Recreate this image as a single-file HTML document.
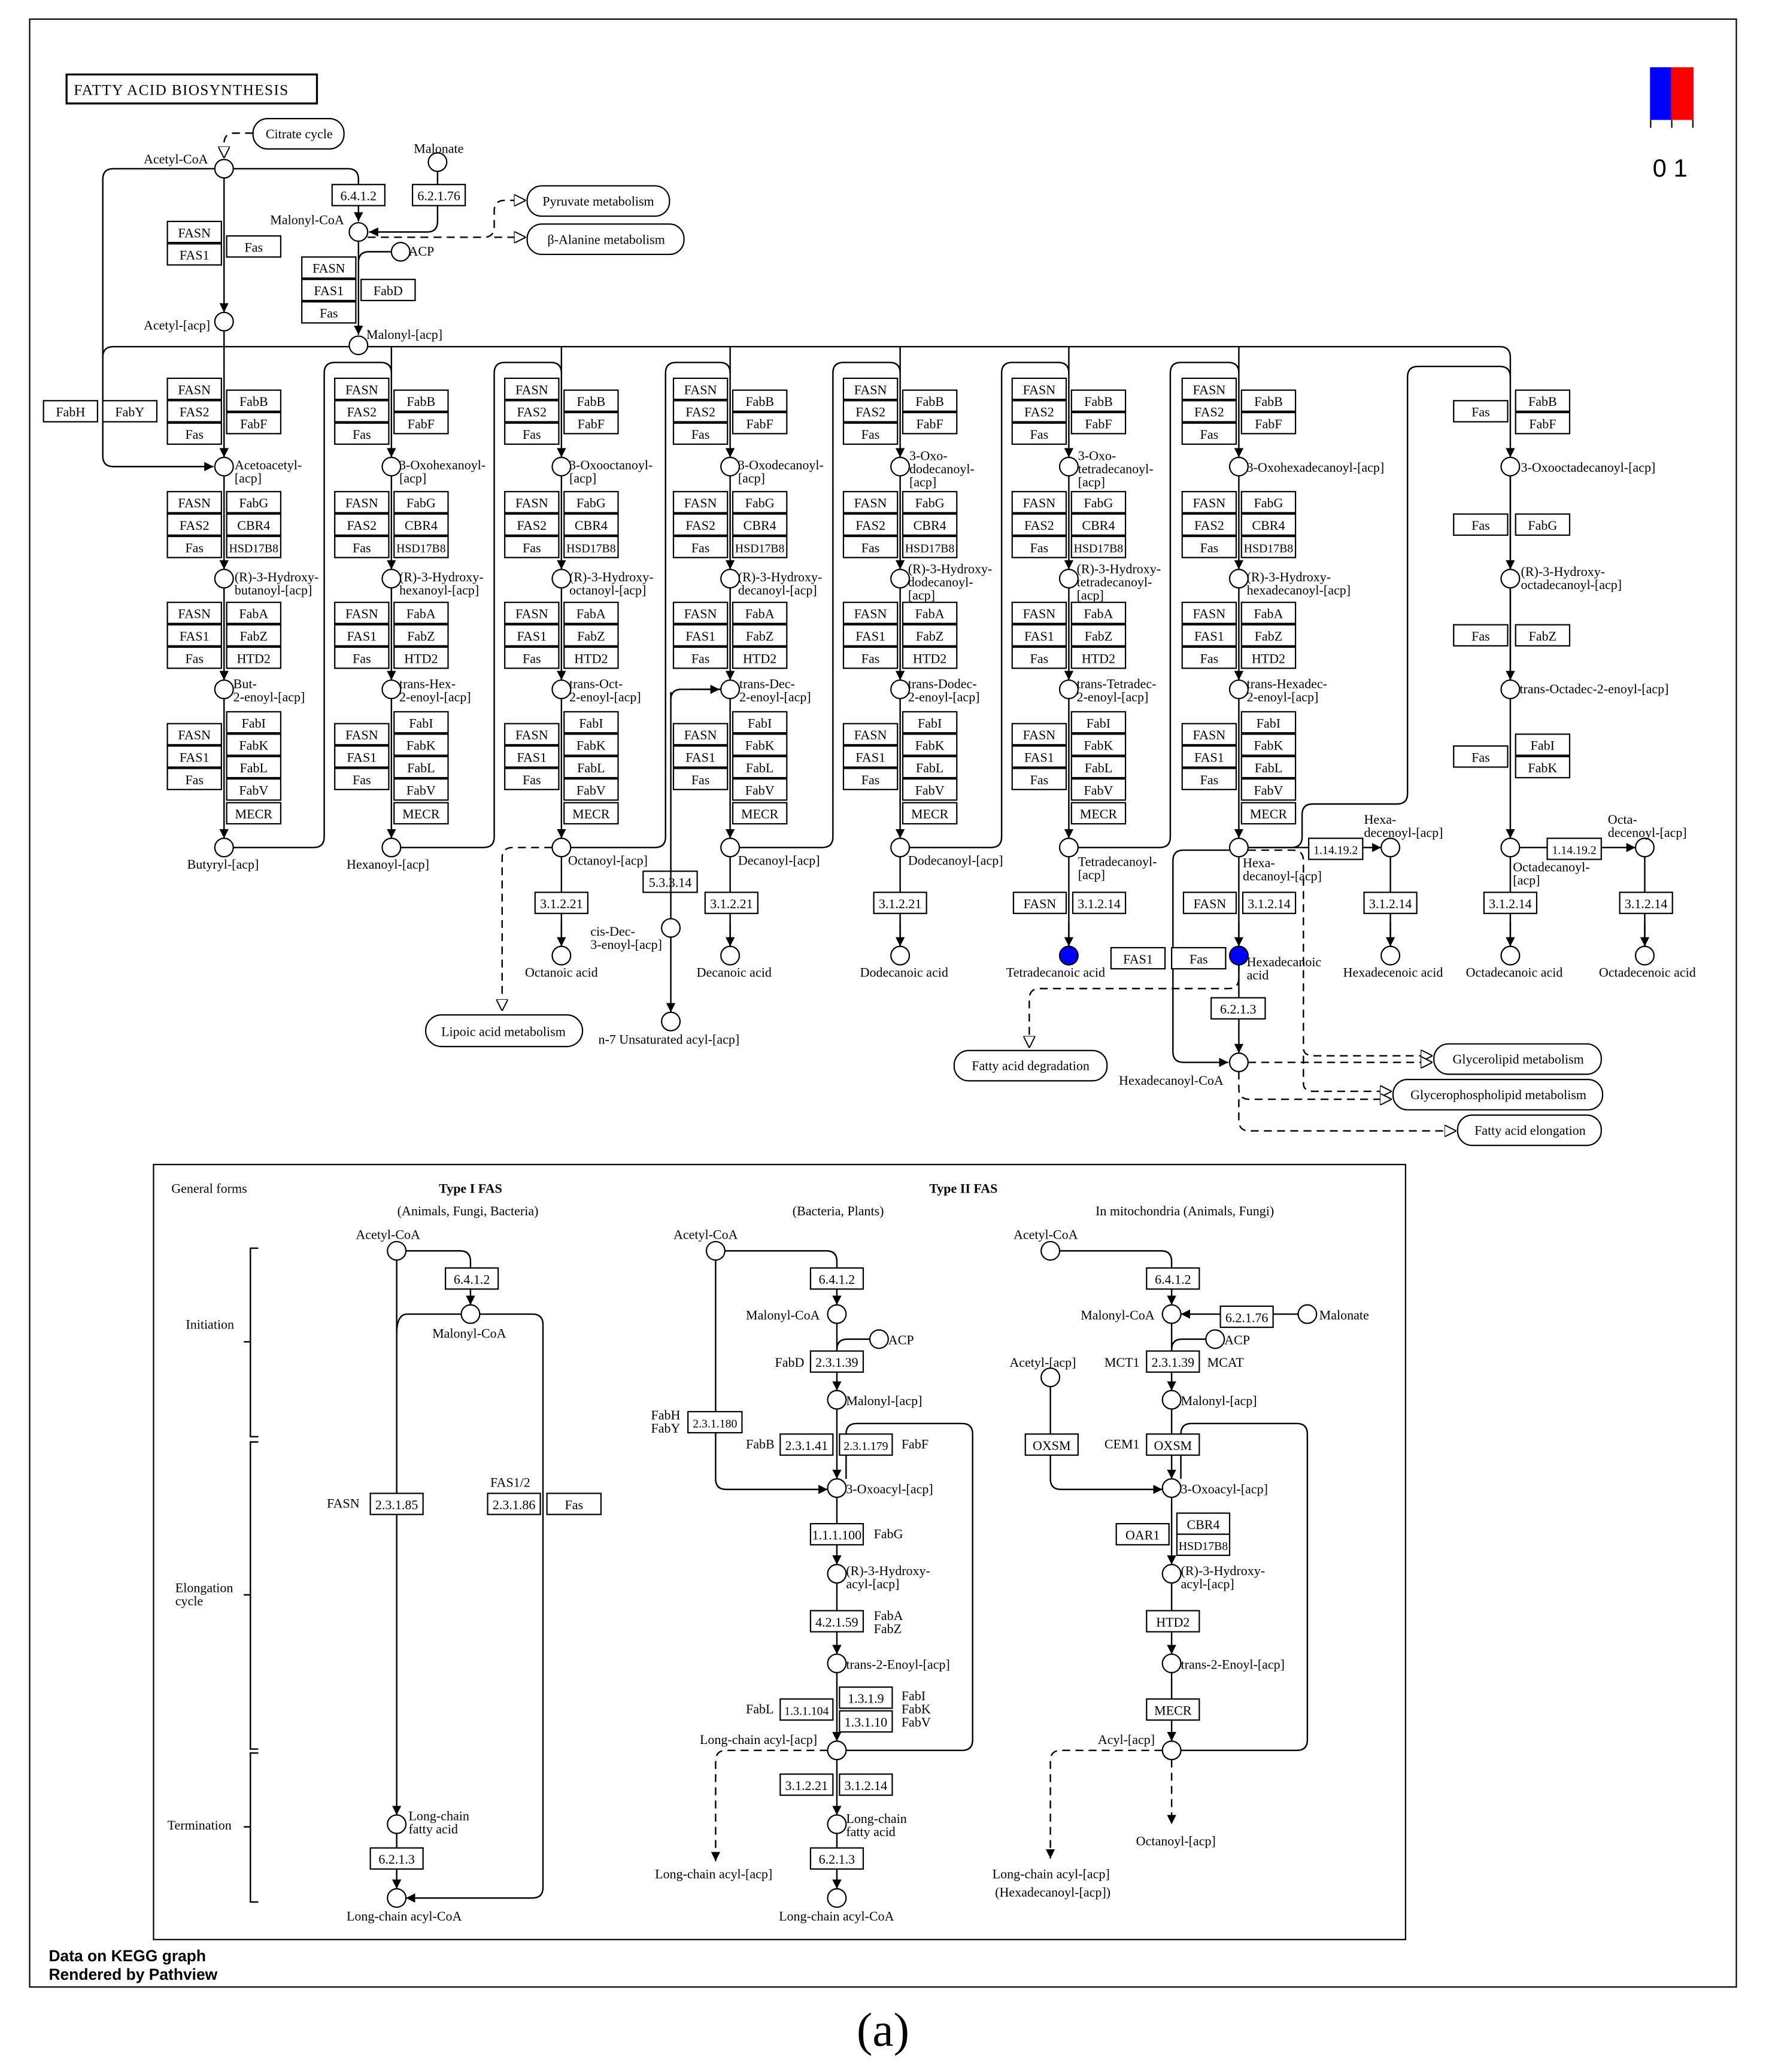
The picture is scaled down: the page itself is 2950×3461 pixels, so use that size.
<!DOCTYPE html>
<html><head><meta charset="utf-8"><style>
html,body{margin:0;padding:0;background:#fff}
svg{display:block}
text{font-family:"Liberation Serif",serif;font-size:10px;fill:#000}
.bx rect,rect.bx{fill:#fff;stroke:#000;stroke-width:1}
.bx text,.c{text-anchor:middle}
.n{fill:#fff;stroke:#000;stroke-width:1}
.bl{fill:#0000ff;stroke:#000;stroke-width:1}
.l{fill:none;stroke:#000;stroke-width:1.1}
.d{fill:none;stroke:#000;stroke-width:1.1;stroke-dasharray:6 4}
.rb{fill:#fff;stroke:#000;stroke-width:1}
.bold{font-weight:bold}
</style></head><body>
<svg width="2950" height="3461" viewBox="0 0 1340 1572" preserveAspectRatio="none" xmlns="http://www.w3.org/2000/svg">
<defs>
<marker id="a" viewBox="0 0 10 10" refX="10" refY="5" markerWidth="7" markerHeight="7" markerUnits="userSpaceOnUse" orient="auto"><path d="M0,0L10,5L0,10z" fill="#000"/></marker>
<marker id="h" viewBox="0 0 10 10" refX="10" refY="5" markerWidth="9" markerHeight="9" markerUnits="userSpaceOnUse" orient="auto"><path d="M0,0L10,5L0,10z" fill="#fff" stroke="#000" stroke-width="1"/></marker>
</defs>
<rect x="0" y="0" width="1340" height="1572" fill="#fff"/>
<rect x="22.5" y="14.5" width="1295" height="1493" fill="none" stroke="#000" stroke-width="1"/>
<!-- title -->
<rect x="50.5" y="56.5" width="190" height="22" fill="#fff" stroke="#000" stroke-width="1.5"/>
<text x="56" y="72" style="font-size:11.5px;letter-spacing:0.6px">FATTY  ACID  BIOSYNTHESIS</text>
<!-- legend -->
<rect x="1252" y="51" width="16" height="40" fill="#0000ff"/>
<rect x="1268" y="51" width="17" height="40" fill="#ff0000"/>
<path d="M1252.5,91V97M1268.5,91V97M1284.5,91V97" stroke="#000"/>
<text x="1254" y="134" style="font-family:'Liberation Sans',sans-serif;font-size:19px">0 1</text>

<!-- ===== columns ===== -->
<g id="col1" transform="translate(170,0)">
<g class="bx">
<rect x="-43" y="287" width="41" height="16"/><text x="-22.5" y="299">FASN</text>
<rect x="-43" y="304" width="41" height="16"/><text x="-22.5" y="316">FAS2</text>
<rect x="-43" y="321" width="41" height="16"/><text x="-22.5" y="333">Fas</text>
<rect x="2" y="296" width="41" height="16"/><text x="22.5" y="308">FabB</text>
<rect x="2" y="313" width="41" height="16"/><text x="22.5" y="325">FabF</text>
<rect x="-43" y="373" width="41" height="16"/><text x="-22.5" y="385">FASN</text>
<rect x="-43" y="390" width="41" height="16"/><text x="-22.5" y="402">FAS2</text>
<rect x="-43" y="407" width="41" height="16"/><text x="-22.5" y="419">Fas</text>
<rect x="2" y="373" width="41" height="16"/><text x="22.5" y="385">FabG</text>
<rect x="2" y="390" width="41" height="16"/><text x="22.5" y="402">CBR4</text>
<rect x="2" y="407" width="41" height="16"/><text x="22.5" y="419" style="font-size:9px">HSD17B8</text>
<rect x="-43" y="457" width="41" height="16"/><text x="-22.5" y="469">FASN</text>
<rect x="-43" y="474" width="41" height="16"/><text x="-22.5" y="486">FAS1</text>
<rect x="-43" y="491" width="41" height="16"/><text x="-22.5" y="503">Fas</text>
<rect x="2" y="457" width="41" height="16"/><text x="22.5" y="469">FabA</text>
<rect x="2" y="474" width="41" height="16"/><text x="22.5" y="486">FabZ</text>
<rect x="2" y="491" width="41" height="16"/><text x="22.5" y="503">HTD2</text>
<rect x="-43" y="549" width="41" height="16"/><text x="-22.5" y="561">FASN</text>
<rect x="-43" y="566" width="41" height="16"/><text x="-22.5" y="578">FAS1</text>
<rect x="-43" y="583" width="41" height="16"/><text x="-22.5" y="595">Fas</text>
<rect x="2" y="540" width="41" height="16"/><text x="22.5" y="552">FabI</text>
<rect x="2" y="557" width="41" height="16"/><text x="22.5" y="569">FabK</text>
<rect x="2" y="574" width="41" height="16"/><text x="22.5" y="586">FabL</text>
<rect x="2" y="591" width="41" height="16"/><text x="22.5" y="603">FabV</text>
<rect x="2" y="609" width="41" height="16"/><text x="22.5" y="621">MECR</text>
</g>
<path class="l" d="M0,263V347" marker-end="url(#a)"/>
<path class="l" d="M0,361V432" marker-end="url(#a)"/>
<path class="l" d="M0,446V516" marker-end="url(#a)"/>
<path class="l" d="M0,530V636" marker-end="url(#a)"/>
<circle class="n" cx="0" cy="354" r="7"/><circle class="n" cx="0" cy="439" r="7"/><circle class="n" cx="0" cy="523" r="7"/><circle class="n" cx="0" cy="643" r="7"/>
</g>
<use href="#col1" transform="translate(127,0)"/>
<use href="#col1" transform="translate(256,0)"/>
<use href="#col1" transform="translate(384,0)"/>
<use href="#col1" transform="translate(513,0)"/>
<use href="#col1" transform="translate(641,0)"/>
<use href="#col1" transform="translate(770,0)"/>
<!-- visible duplicate labels for source (columns 2-7 text) -->
<g style="display:none"><text>FASN FAS2 Fas FabB FabF FabG CBR4 HSD17B8 FAS1 FabA FabZ HTD2 FabI FabK FabL FabV MECR</text></g>

<!-- col8 (x=1146) -->
<g class="bx">
<rect x="1103" y="304" width="41" height="16"/><text x="1123.5" y="316">Fas</text>
<rect x="1150" y="296" width="41" height="16"/><text x="1170.5" y="308">FabB</text>
<rect x="1150" y="313" width="41" height="16"/><text x="1170.5" y="325">FabF</text>
<rect x="1103" y="390" width="41" height="16"/><text x="1123.5" y="402">Fas</text>
<rect x="1150" y="390" width="41" height="16"/><text x="1170.5" y="402">FabG</text>
<rect x="1103" y="474" width="41" height="16"/><text x="1123.5" y="486">Fas</text>
<rect x="1150" y="474" width="41" height="16"/><text x="1170.5" y="486">FabZ</text>
<rect x="1103" y="566" width="41" height="16"/><text x="1123.5" y="578">Fas</text>
<rect x="1150" y="557" width="41" height="16"/><text x="1170.5" y="569">FabI</text>
<rect x="1150" y="574" width="41" height="16"/><text x="1170.5" y="586">FabK</text>
</g>
<path class="l" d="M1146,361V432M1146,446V516M1146,530V636" marker-end="url(#a)"/>
<path class="l" d="M1146,361V432" marker-end="url(#a)"/>
<path class="l" d="M1146,446V516" marker-end="url(#a)"/>
<circle class="n" cx="1146" cy="354" r="7"/><circle class="n" cx="1146" cy="439" r="7"/><circle class="n" cx="1146" cy="523" r="7"/><circle class="n" cx="1146" cy="643" r="7"/>

<!-- top long line & loops -->
<path class="l" d="M78,271Q78,263 86,263H1138Q1146,263 1146,271V347" marker-end="url(#a)"/>
<path class="l" d="M177,643H238Q246,643 246,635V283Q246,275 254,275H289Q297,275 297,283"/>
<path class="l" d="M304,643H367Q375,643 375,635V283Q375,275 383,275H418Q426,275 426,283"/>
<path class="l" d="M433,643H497Q505,643 505,635V283Q505,275 513,275H546Q554,275 554,283"/>
<path class="l" d="M561,643H624Q632,643 632,635V283Q632,275 640,275H675Q683,275 683,283"/>
<path class="l" d="M690,643H752Q760,643 760,635V283Q760,275 768,275H803Q811,275 811,283"/>
<path class="l" d="M818,643H880Q888,643 888,635V283Q888,275 896,275H932Q940,275 940,283"/>
<path class="l" d="M947,643H980Q988,643 988,635V618Q988,610 996,610H1060Q1068,610 1068,602V286Q1068,278 1076,278H1138Q1146,278 1146,286"/>
<!-- Hexadecanoyl-acp to CoA -->
<path class="l" d="M933,645H898Q890,645 890,653V798Q890,806 898,806H932" marker-end="url(#a)"/>

<!-- left start -->
<path class="l" d="M163,128H86Q78,128 78,136V346Q78,354 86,354H162" marker-end="url(#a)"/>
<g class="bx">
<rect x="33" y="304" width="41" height="16"/><text x="53.5" y="316">FabH</text>
<rect x="78" y="304" width="41" height="16"/><text x="98.5" y="316">FabY</text>
</g>
<path class="l" d="M170,135V237" marker-end="url(#a)"/>
<path class="l" d="M170,251V263"/>
<path class="l" d="M177,128H264Q272,128 272,136V168" marker-end="url(#a)"/>
<path class="l" d="M332,130V168Q332,176 324,176H280" marker-end="url(#a)"/>
<path class="l" d="M272,183V254" marker-end="url(#a)"/>
<path class="l" d="M297,191H280Q272,191 272,199"/>
<circle class="n" cx="170" cy="128" r="7"/>
<circle class="n" cx="170" cy="244" r="7"/>
<circle class="n" cx="332" cy="123" r="7"/>
<circle class="n" cx="272" cy="176" r="7"/>
<circle class="n" cx="304" cy="191" r="7"/>
<circle class="n" cx="272" cy="262" r="7"/>
<g class="bx">
<rect x="252" y="140" width="40" height="16"/><text x="272" y="152">6.4.1.2</text>
<rect x="313" y="140" width="40" height="16"/><text x="333" y="152">6.2.1.76</text>
<rect x="127" y="168" width="41" height="16"/><text x="147.5" y="180">FASN</text>
<rect x="127" y="185" width="41" height="16"/><text x="147.5" y="197">FAS1</text>
<rect x="172" y="179" width="41" height="16"/><text x="192.5" y="191">Fas</text>
<rect x="229" y="195" width="41" height="16"/><text x="249.5" y="207">FASN</text>
<rect x="229" y="212" width="41" height="16"/><text x="249.5" y="224">FAS1</text>
<rect x="274" y="212" width="41" height="16"/><text x="294.5" y="224">FabD</text>
<rect x="229" y="229" width="41" height="16"/><text x="249.5" y="241">Fas</text>
</g>
<text x="109" y="124">Acetyl-CoA</text>
<text x="109" y="250">Acetyl-[acp]</text>
<text x="314" y="116">Malonate</text>
<text x="205" y="170">Malonyl-CoA</text>
<text x="310" y="194">ACP</text>
<text x="278" y="257">Malonyl-[acp]</text>
<rect class="rb" x="192" y="90" width="69" height="23" rx="11"/><text class="c" x="227" y="105">Citrate cycle</text>
<path class="d" d="M192,101H178Q170,101 170,109V120" marker-end="url(#h)"/>
<rect class="rb" x="400" y="141" width="108" height="23" rx="11"/><text class="c" x="454" y="156">Pyruvate metabolism</text>
<rect class="rb" x="400" y="170" width="119" height="23" rx="11"/><text class="c" x="460" y="185">β-Alanine metabolism</text>
<path class="d" d="M279,180H367Q375,180 375,172V160Q375,152 383,152H399" marker-end="url(#h)"/>
<path class="d" d="M375,180H399" marker-end="url(#h)"/>

<!-- column labels -->
<text x="178" y="356">Acetoacetyl-</text><text x="178" y="366">[acp]</text>
<text x="178" y="441">(R)-3-Hydroxy-</text><text x="178" y="451">butanoyl-[acp]</text>
<text x="177" y="522">But-</text><text x="177" y="532">2-enoyl-[acp]</text>
<text x="142" y="659">Butyryl-[acp]</text>
<text x="303" y="356">3-Oxohexanoyl-</text><text x="303" y="366">[acp]</text>
<text x="303" y="441">(R)-3-Hydroxy-</text><text x="303" y="451">hexanoyl-[acp]</text>
<text x="303" y="522">trans-Hex-</text><text x="303" y="532">2-enoyl-[acp]</text>
<text x="263" y="659">Hexanoyl-[acp]</text>
<text x="432" y="356">3-Oxooctanoyl-</text><text x="432" y="366">[acp]</text>
<text x="432" y="441">(R)-3-Hydroxy-</text><text x="432" y="451">octanoyl-[acp]</text>
<text x="432" y="522">trans-Oct-</text><text x="432" y="532">2-enoyl-[acp]</text>
<text x="431" y="656">Octanoyl-[acp]</text>
<text x="560" y="356">3-Oxodecanoyl-</text><text x="560" y="366">[acp]</text>
<text x="560" y="441">(R)-3-Hydroxy-</text><text x="560" y="451">decanoyl-[acp]</text>
<text x="561" y="522">trans-Dec-</text><text x="561" y="532">2-enoyl-[acp]</text>
<text x="560" y="656">Decanoyl-[acp]</text>
<text x="690" y="349">3-Oxo-</text><text x="690" y="359">dodecanoyl-</text><text x="690" y="369">[acp]</text>
<text x="689" y="435">(R)-3-Hydroxy-</text><text x="689" y="445">dodecanoyl-</text><text x="689" y="455">[acp]</text>
<text x="689" y="522">trans-Dodec-</text><text x="689" y="532">2-enoyl-[acp]</text>
<text x="689" y="656">Dodecanoyl-[acp]</text>
<text x="818" y="349">3-Oxo-</text><text x="818" y="359">tetradecanoyl-</text><text x="818" y="369">[acp]</text>
<text x="817" y="435">(R)-3-Hydroxy-</text><text x="817" y="445">tetradecanoyl-</text><text x="817" y="455">[acp]</text>
<text x="817" y="522">trans-Tetradec-</text><text x="817" y="532">2-enoyl-[acp]</text>
<text x="818" y="657">Tetradecanoyl-</text><text x="818" y="667">[acp]</text>
<text x="946" y="358">3-Oxohexadecanoyl-[acp]</text>
<text x="946" y="441">(R)-3-Hydroxy-</text><text x="946" y="451">hexadecanoyl-[acp]</text>
<text x="946" y="522">trans-Hexadec-</text><text x="946" y="532">2-enoyl-[acp]</text>
<text x="943" y="658">Hexa-</text><text x="943" y="668">decanoyl-[acp]</text>
<text x="1154" y="358">3-Oxooctadecanoyl-[acp]</text>
<text x="1154" y="437">(R)-3-Hydroxy-</text><text x="1154" y="447">octadecanoyl-[acp]</text>
<text x="1153" y="526">trans-Octadec-2-enoyl-[acp]</text>
<text x="1148" y="661">Octadecanoyl-</text><text x="1148" y="671">[acp]</text>

<!-- products -->
<path class="l" d="M426,650V718M554,650V718M683,650V718M811,650V718M940,650V718M1055,650V718M1146,650V718M1248,650V718" />
<path class="l" d="M426,700V718" marker-end="url(#a)"/><path class="l" d="M554,700V718" marker-end="url(#a)"/><path class="l" d="M683,700V718" marker-end="url(#a)"/><path class="l" d="M811,700V718" marker-end="url(#a)"/><path class="l" d="M940,700V718" marker-end="url(#a)"/><path class="l" d="M1055,700V718" marker-end="url(#a)"/><path class="l" d="M1146,700V718" marker-end="url(#a)"/><path class="l" d="M1248,700V718" marker-end="url(#a)"/>
<path class="l" d="M940,732V799" marker-end="url(#a)"/>
<path class="l" d="M947,643H1048" marker-end="url(#a)"/>
<path class="l" d="M1153,643H1241" marker-end="url(#a)"/>
<g class="bx">
<rect x="406" y="677" width="40" height="16"/><text x="426" y="689">3.1.2.21</text>
<rect x="535" y="677" width="40" height="16"/><text x="555" y="689">3.1.2.21</text>
<rect x="663" y="677" width="40" height="16"/><text x="683" y="689">3.1.2.21</text>
<rect x="769" y="677" width="40" height="16"/><text x="789" y="689">FASN</text>
<rect x="814" y="677" width="40" height="16"/><text x="834" y="689">3.1.2.14</text>
<rect x="898" y="677" width="40" height="16"/><text x="918" y="689">FASN</text>
<rect x="943" y="677" width="40" height="16"/><text x="963" y="689">3.1.2.14</text>
<rect x="1035" y="677" width="40" height="16"/><text x="1055" y="689">3.1.2.14</text>
<rect x="1126" y="677" width="40" height="16"/><text x="1146" y="689">3.1.2.14</text>
<rect x="1229" y="677" width="40" height="16"/><text x="1249" y="689">3.1.2.14</text>
<rect x="993" y="636" width="41" height="16"/><text x="1013.5" y="648" style="font-size:9px">1.14.19.2</text>
<rect x="1174" y="636" width="41" height="16"/><text x="1194.5" y="648" style="font-size:9px">1.14.19.2</text>
<rect x="843" y="719" width="41" height="16"/><text x="863.5" y="731">FAS1</text>
<rect x="889" y="719" width="41" height="16"/><text x="909.5" y="731">Fas</text>
<rect x="919" y="757" width="41" height="16"/><text x="939.5" y="769">6.2.1.3</text>
<rect x="488" y="661" width="41" height="16"/><text x="508.5" y="673">5.3.3.14</text>
</g>
<circle class="n" cx="426" cy="725" r="7"/><circle class="n" cx="554" cy="725" r="7"/><circle class="n" cx="683" cy="725" r="7"/>
<circle class="bl" cx="811" cy="725" r="7"/><circle class="bl" cx="940" cy="725" r="7"/>
<circle class="n" cx="1055" cy="643" r="7"/><circle class="n" cx="1248" cy="643" r="7"/>
<circle class="n" cx="1055" cy="725" r="7"/><circle class="n" cx="1146" cy="725" r="7"/><circle class="n" cx="1248" cy="725" r="7"/>
<circle class="n" cx="940" cy="806" r="7"/>
<text class="c" x="426" y="741">Octanoic acid</text>
<text class="c" x="557" y="741">Decanoic acid</text>
<text class="c" x="686" y="741">Dodecanoic acid</text>
<text class="c" x="801" y="741">Tetradecanoic acid</text>
<text x="946" y="733">Hexadecanoic</text><text x="946" y="743">acid</text>
<text class="c" x="1057" y="741">Hexadecenoic acid</text>
<text class="c" x="1149" y="741">Octadecanoic acid</text>
<text class="c" x="1250" y="741">Octadecenoic acid</text>
<text x="1035" y="625">Hexa-</text><text x="1035" y="635">decenoyl-[acp]</text>
<text x="1220" y="625">Octa-</text><text x="1220" y="635">decenoyl-[acp]</text>
<text x="849" y="823">Hexadecanoyl-CoA</text>
<!-- cis-Dec branch -->
<path class="l" d="M547,523H517Q509,523 509,531V697"/>
<path class="l" d="M509,525V531"/>
<path class="l" d="M509,711V768" marker-end="url(#a)"/>
<path class="l" d="M524,523H546" marker-end="url(#a)"/>
<circle class="n" cx="509" cy="704" r="7"/>
<circle class="n" cx="509" cy="775" r="7"/>
<text x="448" y="710">cis-Dec-</text><text x="448" y="720">3-enoyl-[acp]</text>
<text x="454" y="792">n-7 Unsaturated acyl-[acp]</text>
<!-- lipoic -->
<path class="d" d="M419,643H389Q381,643 381,651V767" marker-end="url(#h)"/>
<rect class="rb" x="323" y="770" width="119" height="24" rx="12"/><text class="c" x="382" y="786">Lipoic acid metabolism</text>
<!-- degradation -->
<path class="d" d="M940,732V742Q940,750 932,750H789Q781,750 781,758V795" marker-end="url(#h)"/>
<rect class="rb" x="724" y="797" width="116" height="23" rx="11"/><text class="c" x="782" y="812">Fatty acid degradation</text>
<!-- outputs -->
<path class="d" d="M947,645H981Q989,645 989,653V795Q989,801 997,801H1087" marker-end="url(#h)"/>
<path class="d" d="M989,801V822Q989,828 997,828H1056" marker-end="url(#h)"/>
<path class="d" d="M947,806H1087" marker-end="url(#h)"/>
<path class="d" d="M940,813V826Q940,834 948,834H1056" marker-end="url(#h)"/>
<path class="d" d="M940,834V850Q940,858 948,858H1105" marker-end="url(#h)"/>
<rect class="rb" x="1088" y="792" width="127" height="23" rx="11"/><text class="c" x="1152" y="807">Glycerolipid metabolism</text>
<rect class="rb" x="1057" y="819" width="159" height="23" rx="11"/><text class="c" x="1137" y="834">Glycerophospholipid metabolism</text>
<rect class="rb" x="1106" y="846" width="109" height="23" rx="11"/><text class="c" x="1161" y="861">Fatty acid elongation</text>

<!-- ===== bottom panel ===== -->
<rect x="116.5" y="883.5" width="950" height="588" fill="none" stroke="#000" stroke-width="1"/>
<text x="130" y="905">General forms</text>
<text class="c bold" x="357" y="905">Type I FAS</text>
<text class="c" x="355" y="922">(Animals, Fungi, Bacteria)</text>
<text class="c bold" x="731" y="905">Type II FAS</text>
<text class="c" x="636" y="922">(Bacteria, Plants)</text>
<text class="c" x="899" y="922">In mitochondria (Animals, Fungi)</text>
<path class="l" d="M196,947H190V1090H196M190,1018H185M196,1094H190V1327H196M190,1210H185M196,1330H190V1443H196M190,1386H185"/>
<text x="141" y="1008">Initiation</text>
<text x="133" y="1208">Elongation</text><text x="133" y="1218">cycle</text>
<text x="127" y="1388">Termination</text>

<!-- Type I -->
<path class="l" d="M308,949H349Q357,949 357,957V990" marker-end="url(#a)"/>
<path class="l" d="M301,956V1377" marker-end="url(#a)"/>
<path class="l" d="M301,1012Q301,997 309,997H404Q412,997 412,1005V1432Q412,1440 404,1440H308" marker-end="url(#a)"/>
<path class="l" d="M301,1391V1433" marker-end="url(#a)"/>
<circle class="n" cx="301" cy="949" r="7"/><circle class="n" cx="357" cy="997" r="7"/><circle class="n" cx="301" cy="1384" r="7"/><circle class="n" cx="301" cy="1440" r="7"/>
<g class="bx">
<rect x="338" y="962" width="40" height="16"/><text x="358" y="974">6.4.1.2</text>
<rect x="281" y="1133" width="40" height="16"/><text x="301" y="1145">2.3.1.85</text>
<rect x="370" y="1133" width="40" height="16"/><text x="390" y="1145">2.3.1.86</text>
<rect x="415" y="1133" width="41" height="16"/><text x="435.5" y="1145">Fas</text>
<rect x="281" y="1402" width="40" height="16"/><text x="301" y="1414">6.2.1.3</text>
</g>
<text x="270" y="940">Acetyl-CoA</text>
<text x="328" y="1015">Malonyl-CoA</text>
<text x="248" y="1144">FASN</text>
<text x="372" y="1128">FAS1/2</text>
<text x="310" y="1381">Long-chain</text><text x="310" y="1391">fatty acid</text>
<text x="263" y="1457">Long-chain acyl-CoA</text>

<!-- Type II bacteria -->
<path class="l" d="M550,949H627Q635,949 635,957V990" marker-end="url(#a)"/>
<path class="l" d="M635,1004V1055" marker-end="url(#a)"/>
<path class="l" d="M660,1016H643Q635,1016 635,1024"/>
<path class="l" d="M635,1069V1122" marker-end="url(#a)"/>
<path class="l" d="M543,956V1122Q543,1130 551,1130H628" marker-end="url(#a)"/>
<path class="l" d="M635,1136V1187" marker-end="url(#a)"/>
<path class="l" d="M635,1201V1255" marker-end="url(#a)"/>
<path class="l" d="M635,1269V1321" marker-end="url(#a)"/>
<path class="l" d="M642,1328H730Q738,1328 738,1320V1088Q738,1080 730,1080H650Q642,1080 642,1088V1122"/>
<path class="l" d="M635,1335V1377" marker-end="url(#a)"/>
<path class="l" d="M635,1391V1433" marker-end="url(#a)"/>
<path class="d" d="M628,1328H551Q543,1328 543,1336V1412" marker-end="url(#a)"/>
<circle class="n" cx="543" cy="949" r="7"/><circle class="n" cx="635" cy="997" r="7"/><circle class="n" cx="667" cy="1016" r="7"/><circle class="n" cx="635" cy="1062" r="7"/><circle class="n" cx="635" cy="1129" r="7"/><circle class="n" cx="635" cy="1194" r="7"/><circle class="n" cx="635" cy="1262" r="7"/><circle class="n" cx="635" cy="1328" r="7"/><circle class="n" cx="635" cy="1384" r="7"/><circle class="n" cx="635" cy="1440" r="7"/>
<g class="bx">
<rect x="615" y="962" width="40" height="16"/><text x="635" y="974">6.4.1.2</text>
<rect x="615" y="1025" width="40" height="16"/><text x="635" y="1037">2.3.1.39</text>
<rect x="522" y="1071" width="41" height="16"/><text x="542.5" y="1083" style="font-size:9px">2.3.1.180</text>
<rect x="592" y="1088" width="40" height="16"/><text x="612" y="1100">2.3.1.41</text>
<rect x="637" y="1088" width="40" height="16"/><text x="657" y="1100" style="font-size:9px">2.3.1.179</text>
<rect x="615" y="1156" width="40" height="16"/><text x="635" y="1168">1.1.1.100</text>
<rect x="615" y="1222" width="40" height="16"/><text x="635" y="1234">4.2.1.59</text>
<rect x="592" y="1289" width="40" height="16"/><text x="612" y="1301" style="font-size:9px">1.3.1.104</text>
<rect x="637" y="1280" width="40" height="16"/><text x="657" y="1292">1.3.1.9</text>
<rect x="637" y="1298" width="40" height="16"/><text x="657" y="1310">1.3.1.10</text>
<rect x="592" y="1346" width="40" height="16"/><text x="612" y="1358">3.1.2.21</text>
<rect x="637" y="1346" width="40" height="16"/><text x="657" y="1358">3.1.2.14</text>
<rect x="615" y="1402" width="40" height="16"/><text x="635" y="1414">6.2.1.3</text>
</g>
<text x="511" y="940">Acetyl-CoA</text>
<text x="566" y="1001">Malonyl-CoA</text>
<text x="674" y="1020">ACP</text>
<text x="588" y="1037">FabD</text>
<text x="642" y="1066">Malonyl-[acp]</text>
<text x="494" y="1077">FabH</text><text x="494" y="1087">FabY</text>
<text x="566" y="1099">FabB</text>
<text x="684" y="1099">FabF</text>
<text x="642" y="1133">3-Oxoacyl-[acp]</text>
<text x="663" y="1167">FabG</text>
<text x="642" y="1195">(R)-3-Hydroxy-</text><text x="642" y="1205">acyl-[acp]</text>
<text x="663" y="1229">FabA</text><text x="663" y="1239">FabZ</text>
<text x="642" y="1266">trans-2-Enoyl-[acp]</text>
<text x="566" y="1300">FabL</text>
<text x="684" y="1290">FabI</text><text x="684" y="1300">FabK</text><text x="684" y="1310">FabV</text>
<text x="531" y="1323">Long-chain acyl-[acp]</text>
<text x="642" y="1383">Long-chain</text><text x="642" y="1393">fatty acid</text>
<text x="497" y="1425">Long-chain acyl-[acp]</text>
<text x="591" y="1457">Long-chain acyl-CoA</text>

<!-- mitochondria -->
<path class="l" d="M804,949H881Q889,949 889,957V990" marker-end="url(#a)"/>
<path class="l" d="M985,997H896" marker-end="url(#a)"/>
<path class="l" d="M889,1004V1055" marker-end="url(#a)"/>
<path class="l" d="M915,1016H897Q889,1016 889,1024"/>
<path class="l" d="M889,1069V1122" marker-end="url(#a)"/>
<path class="l" d="M797,1052V1122Q797,1130 805,1130H882" marker-end="url(#a)"/>
<path class="l" d="M889,1136V1187" marker-end="url(#a)"/>
<path class="l" d="M889,1201V1255" marker-end="url(#a)"/>
<path class="l" d="M889,1269V1321" marker-end="url(#a)"/>
<path class="l" d="M896,1328H984Q992,1328 992,1320V1088Q992,1080 984,1080H904Q896,1080 896,1088V1122"/>
<path class="d" d="M889,1335V1384" marker-end="url(#a)"/>
<path class="d" d="M882,1328H805Q797,1328 797,1336V1410" marker-end="url(#a)"/>
<circle class="n" cx="797" cy="949" r="7"/><circle class="n" cx="889" cy="997" r="7"/><circle class="n" cx="992" cy="997" r="7"/><circle class="n" cx="922" cy="1016" r="7"/><circle class="n" cx="797" cy="1045" r="7"/><circle class="n" cx="889" cy="1062" r="7"/><circle class="n" cx="889" cy="1129" r="7"/><circle class="n" cx="889" cy="1194" r="7"/><circle class="n" cx="889" cy="1262" r="7"/><circle class="n" cx="889" cy="1328" r="7"/>
<g class="bx">
<rect x="870" y="962" width="40" height="16"/><text x="890" y="974">6.4.1.2</text>
<rect x="926" y="991" width="40" height="16"/><text x="946" y="1003">6.2.1.76</text>
<rect x="870" y="1025" width="40" height="16"/><text x="890" y="1037">2.3.1.39</text>
<rect x="778" y="1088" width="40" height="16"/><text x="798" y="1100">OXSM</text>
<rect x="870" y="1088" width="40" height="16"/><text x="890" y="1100">OXSM</text>
<rect x="847" y="1156" width="40" height="16"/><text x="867" y="1168">OAR1</text>
<rect x="893" y="1148" width="40" height="16"/><text x="913" y="1160">CBR4</text>
<rect x="893" y="1164" width="40" height="16"/><text x="913" y="1176" style="font-size:9px">HSD17B8</text>
<rect x="870" y="1222" width="40" height="16"/><text x="890" y="1234">HTD2</text>
<rect x="870" y="1289" width="40" height="16"/><text x="890" y="1301">MECR</text>
</g>
<text x="769" y="940">Acetyl-CoA</text>
<text x="820" y="1001">Malonyl-CoA</text>
<text x="1001" y="1001">Malonate</text>
<text x="929" y="1020">ACP</text>
<text x="766" y="1037">Acetyl-[acp]</text>
<text x="838" y="1037">MCT1</text>
<text x="916" y="1037">MCAT</text>
<text x="896" y="1066">Malonyl-[acp]</text>
<text x="838" y="1099">CEM1</text>
<text x="896" y="1133">3-Oxoacyl-[acp]</text>
<text x="896" y="1195">(R)-3-Hydroxy-</text><text x="896" y="1205">acyl-[acp]</text>
<text x="896" y="1266">trans-2-Enoyl-[acp]</text>
<text x="833" y="1323">Acyl-[acp]</text>
<text x="862" y="1400">Octanoyl-[acp]</text>
<text x="753" y="1425">Long-chain acyl-[acp]</text>
<text x="755" y="1439">(Hexadecanoyl-[acp])</text>

<!-- footer -->
<text x="37" y="1488" style="font-family:'Liberation Sans',sans-serif;font-size:12px;font-weight:bold">Data on KEGG graph</text>
<text x="37" y="1502" style="font-family:'Liberation Sans',sans-serif;font-size:12px;font-weight:bold">Rendered by Pathview</text>
<text class="c" x="670" y="1552" style="font-size:36px">(a)</text>
</svg>
</body></html>
